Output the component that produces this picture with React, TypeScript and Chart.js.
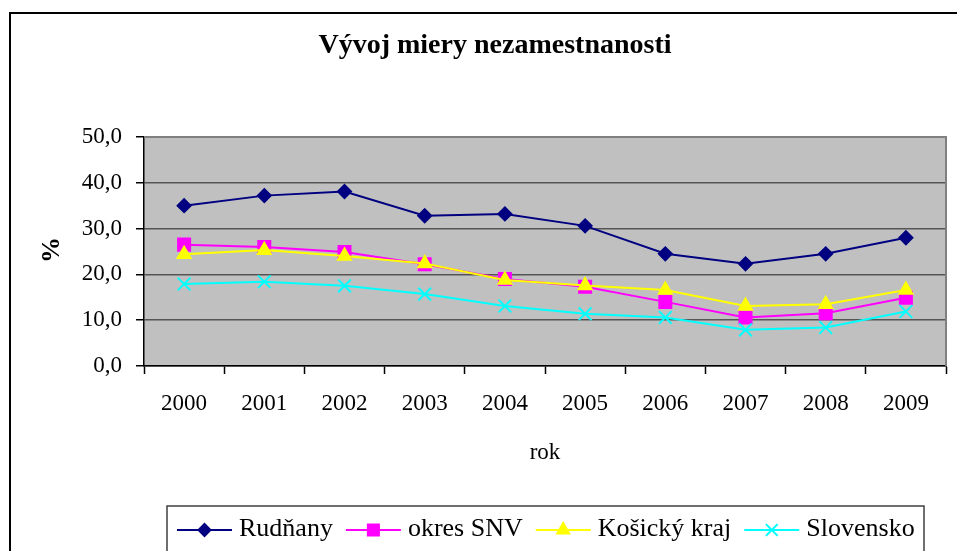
import React, { useEffect, useRef } from 'react';
import Chart from 'chart.js/auto';
import { drawPoint } from 'chart.js/helpers';

const years = ['2000', '2001', '2002', '2003', '2004', '2005', '2006', '2007', '2008', '2009'];
const rudnany = [35.0, 37.2, 38.1, 32.8, 33.2, 30.6, 24.5, 22.3, 24.5, 28.0];
const okresSNV = [26.5, 26.0, 24.9, 22.2, 19.0, 17.3, 14.0, 10.6, 11.5, 14.9];
const kosickyKraj = [24.4, 25.3, 24.0, 22.4, 18.8, 17.6, 16.6, 13.1, 13.5, 16.6];
const slovensko = [17.9, 18.4, 17.5, 15.7, 13.1, 11.4, 10.6, 7.9, 8.4, 11.9];
const seriesNames = ['Rudňany', 'okres SNV', 'Košický kraj', 'Slovensko'];
const yTicks = [0, 10, 20, 30, 40, 50];

const FONT = "'Liberation Serif', 'Times New Roman', serif";

const styles = [
  { color: '#000080', pointStyle: 'rectRot', radius: 6.5 },
  { color: '#FF00FF', pointStyle: 'rect', radius: 8.5 },
  { color: '#FFFF00', pointStyle: 'triangle', radius: 7.5 },
  { color: '#00FFFF', pointStyle: 'crossRot', radius: 9 },
];

const decor = {
  id: 'decor',
  beforeDraw(chart: any) {
    const { ctx, chartArea: a } = chart;
    ctx.save();
    ctx.fillStyle = '#ffffff';
    ctx.fillRect(0, 0, chart.width, chart.height);
    ctx.fillStyle = '#C0C0C0';
    ctx.fillRect(a.left, a.top, a.right - a.left, a.bottom - a.top);
    ctx.strokeStyle = '#000000';
    ctx.lineWidth = 2;
    ctx.strokeRect(10, 13, 1000, 600);
    ctx.restore();
  },
  beforeDatasetsDraw(chart: any) {
    const { ctx, chartArea: a } = chart;
    ctx.save();
    ctx.strokeStyle = '#808080';
    ctx.lineWidth = 2;
    ctx.beginPath();
    ctx.moveTo(a.left, a.top);
    ctx.lineTo(a.right, a.top);
    ctx.lineTo(a.right, a.bottom);
    ctx.stroke();
    ctx.restore();
  },
  afterDraw(chart: any) {
    const { ctx, chartArea: a } = chart;
    ctx.save();
    // title
    ctx.fillStyle = '#000';
    ctx.font = `bold 28px ${FONT}`;
    ctx.textAlign = 'center';
    ctx.textBaseline = 'alphabetic';
    ctx.fillText('Vývoj miery nezamestnanosti', 495, 53);
    // x title
    ctx.font = `23px ${FONT}`;
    ctx.fillText('rok', (a.left + a.right) / 2, 459);
    // y title
    ctx.save();
    ctx.translate(52, 250);
    ctx.rotate(-Math.PI / 2);
    ctx.font = `bold 26px ${FONT}`;
    ctx.textBaseline = 'middle';
    ctx.fillText('%', 0, 0);
    ctx.restore();
    // legend
    ctx.fillStyle = '#ffffff';
    ctx.fillRect(167, 506, 924 - 167, 60);
    ctx.strokeStyle = '#404040';
    ctx.lineWidth = 1.5;
    ctx.strokeRect(167, 506, 924 - 167, 60);
    let x = 177;
    const ly = 530;
    ctx.font = `26px ${FONT}`;
    ctx.textAlign = 'left';
    ctx.textBaseline = 'alphabetic';
    seriesNames.forEach((name, i) => {
      const s = styles[i];
      ctx.strokeStyle = s.color;
      ctx.fillStyle = s.color;
      ctx.lineWidth = 2;
      ctx.beginPath();
      ctx.moveTo(x, ly);
      ctx.lineTo(x + 55, ly);
      ctx.stroke();
      drawPoint(ctx, { pointStyle: s.pointStyle, radius: s.radius * 0.92, rotation: 0, borderWidth: 2 } as any, x + 27.5, ly);
      ctx.fillStyle = '#000';
      ctx.fillText(name, x + 62, 536);
      x = x + 62 + ctx.measureText(name).width + 13;
    });
    ctx.restore();
  },
};

export default function App() {
  const ref = useRef<HTMLCanvasElement>(null);
  useEffect(() => {
    const values = [rudnany, okresSNV, kosickyKraj, slovensko];
    const chart = new Chart(ref.current as HTMLCanvasElement, {
      type: 'line',
      data: {
        labels: years,
        datasets: values.map((d, i) => ({
          label: seriesNames[i],
          data: d,
          borderColor: styles[i].color,
          backgroundColor: styles[i].color,
          pointBackgroundColor: styles[i].color,
          pointBorderColor: styles[i].color,
          pointStyle: styles[i].pointStyle as any,
          pointRadius: styles[i].radius,
          pointBorderWidth: 2,
          borderWidth: 2,
          tension: 0,
          fill: false,
          order: 3 - i,
        })),
      },
      options: {
        responsive: false,
        devicePixelRatio: 1,
        animation: false,
        layout: { padding: { left: 0, top: 137, right: 6, bottom: 0 } },
        plugins: {
          legend: { display: false },
          title: { display: false },
          tooltip: { enabled: false },
        },
        scales: {
          x: {
            type: 'category',
            offset: true,
            grid: {
              offset: true,
              drawOnChartArea: false,
              drawTicks: true,
              tickLength: 8,
              tickColor: '#000',
              tickWidth: 1.5,
            },
            border: { color: '#000', width: 1.5 },
            ticks: {
              color: '#000',
              font: { family: FONT, size: 23 },
              padding: 16,
              maxRotation: 0,
              autoSkip: false,
            },
            afterFit: (scale: any) => {
              scale.height = 185;
            },
          },
          y: {
            min: 0,
            max: 50,
            afterBuildTicks: (scale: any) => {
              scale.ticks = yTicks.map((v) => ({ value: v }));
            },
            grid: {
              color: '#555555',
              lineWidth: 1.5,
              drawTicks: true,
              tickLength: 8,
              tickColor: '#000',
              tickWidth: 1.5,
            },
            border: { color: '#000', width: 1.5 },
            ticks: {
              color: '#000',
              font: { family: FONT, size: 23 },
              padding: 14,
              callback: (v: any) => Number(v).toFixed(1).replace('.', ','),
            },
            afterFit: (scale: any) => {
              scale.width = 144;
            },
          },
        },
      },
      plugins: [decor],
    });
    return () => chart.destroy();
  }, []);
  return (
    <div style={{ position: 'absolute', left: 0, top: 0, width: 957, height: 551 }}>
      <canvas ref={ref} width={957} height={551} style={{ display: 'block' }} />
    </div>
  );
}
